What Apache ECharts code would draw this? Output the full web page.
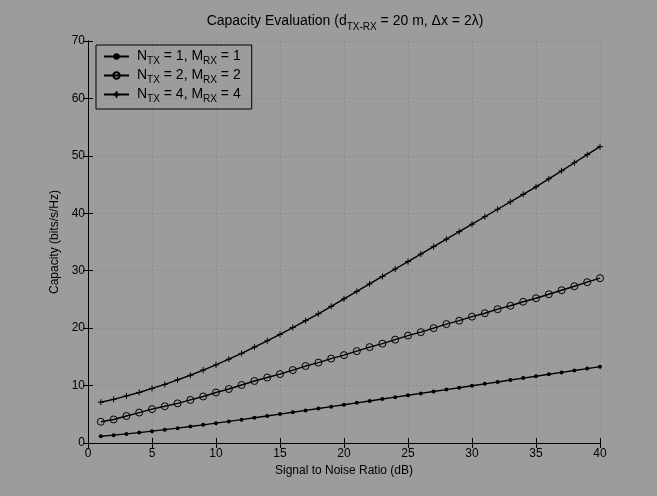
<!DOCTYPE html>
<html>
<head>
<meta charset="utf-8">
<script src="https://cdn.jsdelivr.net/npm/echarts@6/dist/echarts.min.js"></script>
<style>
html,body{margin:0;padding:0;background:#9c9c9c;}
#chart{width:657px;height:496px;}
</style>
</head>
<body>
<div id="chart"></div>
<script>
// ---- data ----
const snrDb = [1,2,3,4,5,6,7,8,9,10,11,12,13,14,15,16,17,18,19,20,21,22,23,24,25,26,27,28,29,30,31,32,33,34,35,36,37,38,39,40];
const cap1x1 = [1.18,1.37,1.58,1.81,2.06,2.32,2.59,2.87,3.16,3.46,3.76,4.07,4.39,4.71,5.03,5.35,5.68,6.00,6.33,6.66,6.99,7.32,7.65,7.98,8.31,8.64,8.97,9.30,9.63,9.97,10.30,10.63,10.96,11.30,11.63,11.96,12.29,12.62,12.96,13.29];
const cap2x2 = [3.7,4.1,4.7,5.3,5.9,6.4,6.9,7.5,8.1,8.8,9.4,10.1,10.8,11.4,12.0,12.7,13.4,14.0,14.7,15.3,16.0,16.7,17.3,18.0,18.7,19.3,20.0,20.7,21.3,22.0,22.6,23.3,23.9,24.6,25.2,25.9,26.6,27.3,28.0,28.7];
const cap4x4 = [7.1,7.6,8.2,8.8,9.5,10.2,11.0,11.8,12.7,13.6,14.6,15.6,16.7,17.8,18.9,20.1,21.3,22.5,23.8,25.1,26.4,27.7,29.0,30.3,31.6,32.9,34.2,35.5,36.8,38.1,39.4,40.7,42.0,43.3,44.6,46.0,47.4,48.8,50.2,51.6];
const seriesNames = ['N1M1','N2M2','N4M4'];
const legendLabels = {
  N1M1: '{n|N}{s|TX}{n| = 1, M}{s|RX}{n| = 1}',
  N2M2: '{n|N}{s|TX}{n| = 2, M}{s|RX}{n| = 2}',
  N4M4: '{n|N}{s|TX}{n| = 4, M}{s|RX}{n| = 4}'
};
const titleText = '{a|Capacity Evaluation (d}{s|TX-RX}{a| = 20 m, Δx = 2λ)}';
const xName = 'Signal to Noise Ratio (dB)';
const yName = 'Capacity (bits/s/Hz)';

const FONT = '"Liberation Sans", Arial, Helvetica, sans-serif';
const pairs = arr => snrDb.map((x, i) => [x, arr[i]]);

const chart = echarts.init(document.getElementById('chart'), null, {renderer: 'canvas'});
const axisCommon = {
  axisLine: {show: true, lineStyle: {color: '#000', width: 1}},
  axisTick: {show: true, inside: true, length: 5, lineStyle: {color: '#000'}},
  splitLine: {show: false}
};
const gridLine = {show: true, lineStyle: {color: '#555', type: [1, 3], width: 1, opacity: 0.35}};
chart.setOption({
  backgroundColor: '#9c9c9c',
  animation: false,
  textStyle: {fontFamily: FONT},
  title: {
    text: titleText,
    left: 345,
    textAlign: 'center',
    top: 14,
    padding: 0,
    textStyle: {
      fontWeight: 'normal',
      rich: {
        a: {fontFamily: FONT, fontSize: 14, fontWeight: 'normal', color: '#000', lineHeight: 16, verticalAlign: 'top'},
        s: {fontFamily: FONT, fontSize: 10, fontWeight: 'normal', color: '#000', verticalAlign: 'top', lineHeight: 12, padding: [8, 0, 0, 0]}
      }
    }
  },
  grid: {left: 88, right: 57, top: 41, bottom: 53, containLabel: false},
  legend: {
    data: seriesNames,
    orient: 'vertical',
    left: 96,
    top: 45,
    padding: [4, 11, 5, 7],
    itemGap: 2,
    itemWidth: 25,
    itemHeight: 8,
    borderColor: '#000',
    borderWidth: 1,
    backgroundColor: 'transparent',
    formatter: name => legendLabels[name],
    textStyle: {
      padding: [0, 0, 0, 3],
      rich: {
        n: {fontFamily: FONT, fontSize: 14, color: '#000', lineHeight: 15, verticalAlign: 'top'},
        s: {fontFamily: FONT, fontSize: 10, color: '#000', verticalAlign: 'top', lineHeight: 12, padding: [7, 0, 0, 0]}
      }
    }
  },
  xAxis: [
    Object.assign({
      type: 'value', min: 0, max: 40, interval: 5, position: 'bottom',
      name: xName, nameLocation: 'middle', nameGap: 22,
      nameTextStyle: {fontFamily: FONT, fontSize: 12, color: '#000'},
      axisLabel: {fontFamily: FONT, fontSize: 12, color: '#000', margin: 5}
    }, axisCommon, {splitLine: gridLine}),
    Object.assign({
      type: 'value', min: 0, max: 40, interval: 5, position: 'top',
      axisLabel: {show: false}
    }, axisCommon)
  ],
  yAxis: [
    Object.assign({
      type: 'value', min: 0, max: 70, interval: 10, position: 'left',
      name: yName, nameLocation: 'middle', nameGap: 17, nameRotate: 90,
      nameTextStyle: {fontFamily: FONT, fontSize: 12, color: '#000'},
      axisLabel: {fontFamily: FONT, fontSize: 12, color: '#000', margin: 3}
    }, axisCommon, {splitLine: gridLine}),
    Object.assign({
      type: 'value', min: 0, max: 70, interval: 10, position: 'right',
      axisLabel: {show: false}
    }, axisCommon)
  ],
  series: [
    {
      name: seriesNames[0], type: 'line', xAxisIndex: 0, yAxisIndex: 0,
      data: pairs(cap1x1),
      symbol: 'circle', symbolSize: 4, showAllSymbol: true,
      lineStyle: {color: '#000', width: 1.4},
      itemStyle: {color: '#000'}
    },
    {
      name: seriesNames[1], type: 'line', xAxisIndex: 0, yAxisIndex: 0,
      data: pairs(cap2x2),
      symbol: 'circle', symbolSize: 7, showAllSymbol: true,
      lineStyle: {color: '#000', width: 1.4},
      itemStyle: {color: 'rgba(0,0,0,0)', borderColor: '#000', borderWidth: 1}
    },
    {
      name: seriesNames[2], type: 'line', xAxisIndex: 0, yAxisIndex: 0,
      data: pairs(cap4x4),
      symbol: 'path://M5,0 L5,10 M0,5 L10,5', symbolSize: 6, showAllSymbol: true,
      lineStyle: {color: '#000', width: 1.4},
      itemStyle: {color: '#000', borderColor: '#000', borderWidth: 1}
    }
  ]
});
</script>
</body>
</html>
